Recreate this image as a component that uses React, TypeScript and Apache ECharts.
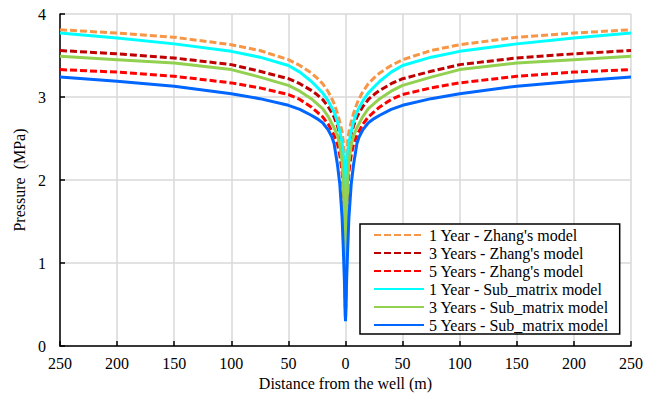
import React, { useEffect, useRef } from "react";
import * as echarts from "echarts";

// Distance from the well (m), one side; the other side mirrors it.
const distances = [0, 1, 2, 3, 5, 7, 10, 12, 15, 20, 25, 30, 40, 50, 75, 100, 150, 200, 250];

// Pressure (MPa) at each distance above
const zhang1Year = [0.3, 2.2, 2.48, 2.58, 2.7, 2.8, 2.92, 2.98, 3.06, 3.16, 3.23, 3.29, 3.38, 3.45, 3.56, 3.63, 3.72, 3.77, 3.81];
const zhang3Years = [0.3, 1.9, 2.22, 2.38, 2.55, 2.65, 2.76, 2.81, 2.88, 2.97, 3.03, 3.08, 3.16, 3.22, 3.31, 3.39, 3.47, 3.52, 3.56];
const zhang5Years = [0.3, 1.4, 1.9, 2.1, 2.3, 2.43, 2.54, 2.59, 2.67, 2.76, 2.82, 2.88, 2.97, 3.03, 3.11, 3.17, 3.25, 3.3, 3.33];
const sub1Year = [0.3, 2.05, 2.32, 2.45, 2.58, 2.7, 2.82, 2.87, 2.95, 3.05, 3.12, 3.19, 3.3, 3.38, 3.48, 3.55, 3.64, 3.71, 3.77];
const sub3Years = [0.3, 1.5, 2.0, 2.22, 2.42, 2.53, 2.63, 2.68, 2.76, 2.86, 2.92, 2.98, 3.07, 3.14, 3.24, 3.33, 3.41, 3.45, 3.49];
const sub5Years = [0.3, 0.8, 1.2, 1.55, 1.95, 2.18, 2.44, 2.52, 2.6, 2.69, 2.74, 2.78, 2.85, 2.9, 2.98, 3.04, 3.13, 3.19, 3.24];

const seriesNames = [
  "1 Year - Zhang's model",
  "3 Years - Zhang's model",
  "5 Years - Zhang's model",
  "1 Year - Sub_matrix model",
  "3 Years - Sub_matrix model",
  "5 Years - Sub_matrix model",
];
const seriesValues = [zhang1Year, zhang3Years, zhang5Years, sub1Year, sub3Years, sub5Years];
const seriesColors = ["#F79646", "#C00000", "#FF0000", "#00FFFF", "#92D050", "#0066FF"];
const seriesDashed = [true, true, true, false, false, false];

const yTicks = [0, 1, 2, 3, 4];

const FONT = "Times New Roman";

// Both sides of the well: negative distances on the left, positive on the right.
function mirrored(values: number[]): [number, number][] {
  const left: [number, number][] = [];
  for (let i = distances.length - 1; i >= 1; i--) left.push([-distances[i], values[i]]);
  const right: [number, number][] = distances.map((d, i) => [d, values[i]]);
  return [...left, ...right];
}

export default function App() {
  const ref = useRef<HTMLDivElement>(null);

  useEffect(() => {
    if (!ref.current) return;
    const chart = echarts.init(ref.current, undefined, { renderer: "svg" });
    chart.setOption({
      animation: false,
      backgroundColor: "#ffffff",
      textStyle: { fontFamily: FONT },
      grid: { left: 60, right: 28, top: 14, bottom: 55 },
      xAxis: {
        type: "value",
        min: -250,
        max: 250,
        interval: 50,
        name: "Distance from the well (m)",
        nameLocation: "middle",
        nameGap: 28,
        nameTextStyle: { fontFamily: FONT, fontSize: 16, color: "#000" },
        axisLine: { onZero: false, lineStyle: { color: "#000", width: 1.5 } },
        axisTick: { inside: true, length: 5, lineStyle: { color: "#000", width: 1.5 } },
        axisLabel: {
          fontFamily: FONT,
          fontSize: 16,
          color: "#000",
          margin: 9,
          formatter: (v: number) => String(Math.abs(v)),
        },
        splitLine: { show: true, lineStyle: { color: "#d9d9d9", width: 1.5 } },
      },
      yAxis: {
        type: "value",
        min: yTicks[0],
        max: yTicks[yTicks.length - 1],
        interval: 1,
        name: "Pressure  (MPa)",
        nameLocation: "middle",
        nameGap: 30,
        nameTextStyle: { fontFamily: FONT, fontSize: 16, color: "#000" },
        axisLine: { show: true, onZero: false, lineStyle: { color: "#000", width: 1.5 } },
        axisTick: { show: true, inside: true, length: 5, lineStyle: { color: "#000", width: 1.5 } },
        axisLabel: { fontFamily: FONT, fontSize: 16, color: "#000", margin: 14 },
        splitLine: { show: true, lineStyle: { color: "#d9d9d9", width: 1.5 } },
      },
      legend: {
        orient: "vertical",
        left: 360,
        top: 224,
        itemWidth: 50,
        itemHeight: 14,
        itemGap: 2,
        padding: [3, 11, 1, 13],
        borderColor: "#000",
        borderWidth: 1.5,
        backgroundColor: "#ffffff",
        itemStyle: { opacity: 0 },
        textStyle: { fontFamily: FONT, fontSize: 16, color: "#000" },
        data: seriesNames,
      },
      series: seriesNames.map((name, i) => ({
        name,
        type: "line",
        data: mirrored(seriesValues[i]),
        showSymbol: false,
        symbol: "none",
        smooth: false,
        color: seriesColors[i],
        lineStyle: {
          color: seriesColors[i],
          width: 3,
          type: seriesDashed[i] ? [7, 3] : "solid",
        },
      })),
    });
    return () => chart.dispose();
  }, []);

  return <div ref={ref} style={{ width: 659, height: 401, position: "absolute", left: 0, top: 0 }} />;
}
